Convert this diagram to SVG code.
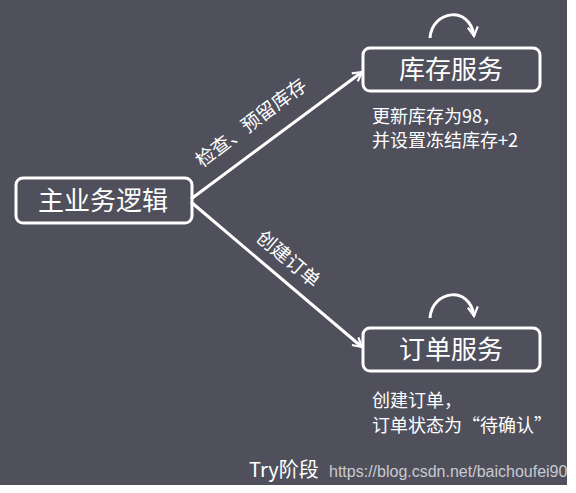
<svg xmlns="http://www.w3.org/2000/svg" width="576" height="493" viewBox="0 0 576 493">
<defs>
<style>
.box{fill:none;stroke:#ffffff;stroke-width:3}
.t{font-family:"Noto Sans CJK SC","Microsoft YaHei",sans-serif;fill:#ffffff}
.ln{stroke:#ffffff;stroke-width:3;fill:none}
</style>
<marker id="ah" viewBox="0 0 12 12" refX="10" refY="6" markerWidth="12" markerHeight="12" markerUnits="userSpaceOnUse" orient="auto">
<path d="M1,1 L10,6 L1,11" fill="none" stroke="#ffffff" stroke-width="2.2"/>
</marker>
</defs>
<rect width="576" height="493" fill="#ffffff"/>
<rect width="567" height="485" fill="#4f505c"/>
<g id="connectors">
<line class="ln" x1="191" y1="199" x2="362" y2="72" marker-end="url(#ah)"/>
<line class="ln" x1="191" y1="202" x2="362" y2="347" marker-end="url(#ah)"/>
<path class="ln" d="M430,38 C432,10 470,5 474,36" marker-end="url(#ah)"/>
<path class="ln" d="M430,318 C432,290 470,285 474,316" marker-end="url(#ah)"/>
<text class="t" font-size="19" transform="translate(255,128) rotate(-37)" text-anchor="middle">检查、预留库存</text>
<text class="t" font-size="19" transform="translate(284,264) rotate(40)" text-anchor="middle">创建订单</text>
</g>
<g id="main">
<rect class="box" x="16" y="178" width="176" height="45" rx="7"/>
<text class="t" font-size="26" x="103" y="210" text-anchor="middle">主业务逻辑</text>
</g>
<g id="stock">
<rect class="box" x="363" y="48" width="177" height="43" rx="7"/>
<text class="t" font-size="26" x="451" y="79" text-anchor="middle">库存服务</text>
<text class="t" font-size="18" x="372" y="123">更新库存为98，</text>
<text class="t" font-size="18" x="372" y="147">并设置冻结库存+2</text>
</g>
<g id="order">
<rect class="box" x="363" y="328" width="177" height="43" rx="7"/>
<text class="t" font-size="26" x="451" y="359" text-anchor="middle">订单服务</text>
<text class="t" font-size="18" x="372" y="407">创建订单，</text>
<text class="t" font-size="18" x="372" y="432">订单状态为“待确认”</text>
</g>
<g id="footer">
<text class="t" font-size="20" x="249" y="477">Try阶段</text>
<text font-family="Liberation Sans,Arial,sans-serif" font-size="16" fill="#c9cad0" x="329" y="477">https://blog.csdn.net/baichoufei90</text>
</g>
</svg>
